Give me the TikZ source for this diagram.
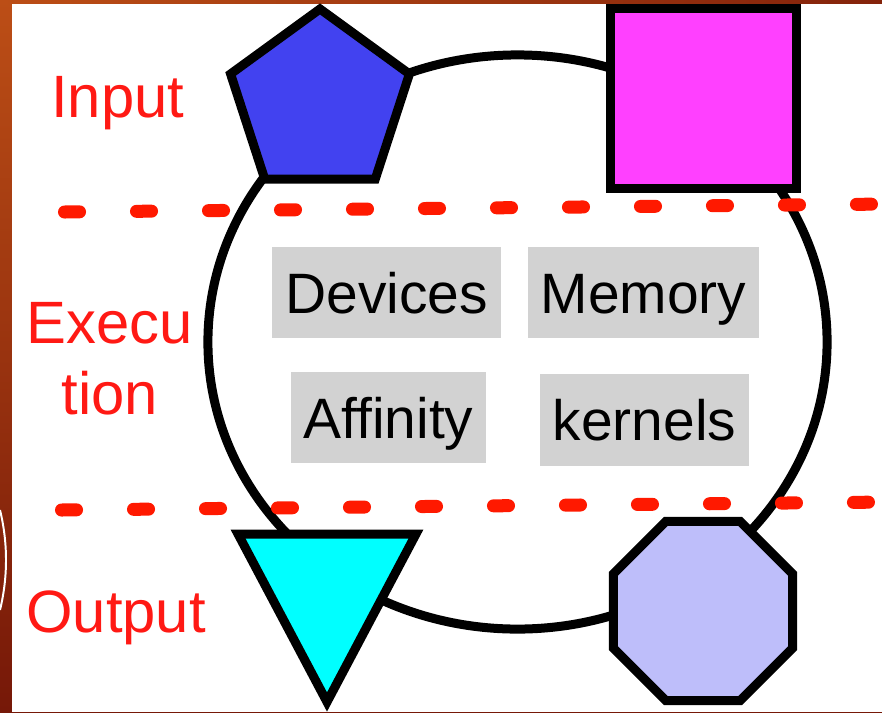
\documentclass[tikz,border=0pt]{standalone}
\usepackage{fontspec}
\setmainfont{Liberation Sans}
\usetikzlibrary{shapes.geometric}

\definecolor{bgtop}{RGB}{188,78,22}
\definecolor{bgbot}{RGB}{118,24,8}
\definecolor{pentblue}{RGB}{66,66,240}
\definecolor{sqmag}{RGB}{255,64,255}
\definecolor{tricyan}{RGB}{0,255,255}
\definecolor{octlav}{RGB}{190,190,250}
\definecolor{boxgray}{RGB}{210,210,210}
\definecolor{lblred}{RGB}{255,25,20}
\definecolor{sepred}{RGB}{255,25,0}

\begin{document}
\begin{tikzpicture}[x=0.025cm, y=-0.025cm,
    ring/.style={draw=black, line width=6.4pt, ellipse, inner sep=0pt},
    shp/.style={draw=black, line width=6.4pt, inner sep=0pt, line join=miter},
    item/.style={fill=boxgray, inner xsep=0.325cm, inner ysep=0pt,
      minimum height=2.275cm, text height=29.2pt, text depth=0pt,
      font=\fontsize{40.5}{48}\selectfont},
    lbl/.style={text=lblred, inner sep=0pt, font=\fontsize{42.5}{50}\selectfont},
    sep/.style={draw=sepred, line width=9.25pt, line cap=round,
      dash pattern=on 10.7pt off 40.5pt},
  ]
    \useasboundingbox (0,0) rectangle (882,712);

    % slide background
    \shade[top color=bgtop, bottom color=bgbot] (0,0) rectangle (882,712);
    \shade[left color=bgtop, right color=bgbot!80!bgtop] (0,0) rectangle (882,4);
    \fill[white] (12,4) rectangle (882,712);
    \draw[white, line width=1.4pt] (0,510) arc[start angle=13.7, end angle=-13.7, radius=5.275cm];

    % ring
    \node[ring, minimum width=15.475cm, minimum height=14.35cm] (loop) at (517.5,342) {};

    % input shapes
    \node[shp, regular polygon, regular polygon sides=5, minimum size=4.7cm,
      fill=pentblue] (inpent) at (320,103) {};
    \node[shp, rectangle, minimum width=4.625cm, minimum height=4.475cm,
      fill=sqmag] (insq) at (703.5,98.5) {};

    % output shapes
    \coordinate (trul) at (238,534);
    \coordinate (trur) at (416,534);
    \coordinate (trtip) at (327,702);
    \draw[shp, fill=tricyan] (trul) -- (trur) -- (trtip) -- cycle;
    \node[shp, regular polygon, regular polygon sides=8, minimum size=4.85cm,
      fill=octlav] (outoct) at (703,611) {};

    % execution items
    \node[item] (dev) at (386.5,292.5) {Devices};
    \node[item] (mem) at (643.5,292.5) {Memory};
    \node[item] (aff) at (388.5,417.5) {Affinity};
    \node[item] (ker) at (644.5,420) {kernels};

    % separators
    \coordinate (sepaw) at (64.5,212);
    \coordinate (sepae) at (890,204);
    \coordinate (sepbw) at (61.5,510);
    \coordinate (sepbe) at (890,502);
    \draw[sep] (sepaw) -- (sepae);
    \draw[sep] (sepbw) -- (sepbe);

    % stage labels
    \node[lbl, anchor=base west] (inlbl) at (51,117) {Input};
    \node[lbl, anchor=base] (exlbla) at (110,343) {Execu};
    \node[lbl, anchor=base] (exlblb) at (110,414) {tion};
    \node[lbl, anchor=base west] (outlbl) at (26,632) {Output};
  \end{tikzpicture}
\end{document}
